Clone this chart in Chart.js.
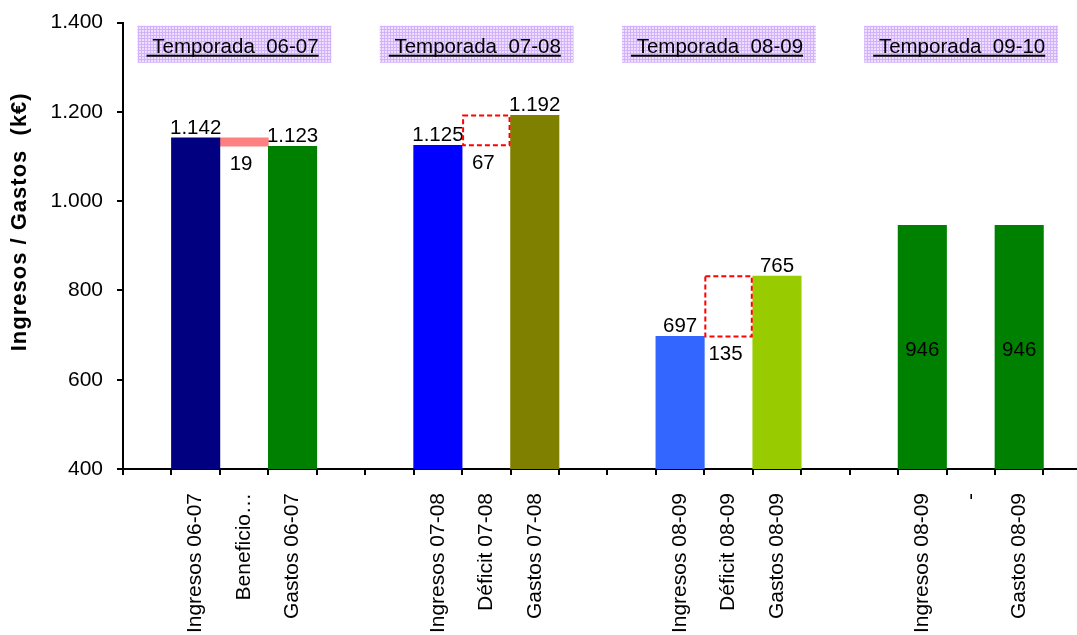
<!DOCTYPE html>
<html>
<head>
<meta charset="utf-8">
<script src="https://cdn.jsdelivr.net/npm/chart.js@4"></script>
<style>
html,body{margin:0;padding:0;overflow:hidden;background:#fff;width:1077px;height:635px}
#wrap{position:absolute;left:0;top:-4px;width:1111px;height:664px}
</style>
</head>
<body>
<div id="wrap"><canvas id="c" width="1111" height="664"></canvas></div>
<script>
// ---- data ----
const categories = ['', 'Ingresos 06-07', 'Beneficio\u2026', 'Gastos 06-07', '', '',
  'Ingresos 07-08', 'Déficit 07-08', 'Gastos 07-08', '', '',
  'Ingresos 08-09', 'Déficit 08-09', 'Gastos 08-09', '', '',
  'Ingresos 08-09', '-', 'Gastos 08-09', ''];
const ingresosGastos = [null, 1142, null, 1123, null, null, 1125, null, 1192, null, null,
  697, null, 832, null, null, 946, null, 946, null];
const diferencias = [null, null, [1123, 1142], null, null, null, null, [1125, 1192], null, null,
  null, null, [697, 832], null, null, null, null, null, null, null];
const valueLabels = [null, 1142, 19, 1123, null, null, 1125, 67, 1192, null, null,
  697, 135, 765, null, null, 946, null, 946, null];
const seasons = ['Temporada  06-07', 'Temporada  07-08', 'Temporada  08-09', 'Temporada  09-10'];
const yTitle = 'Ingresos / Gastos  (k€)';
const yMin = 400, yMax = 1400, yStep = 200;

// ---- styles ----
const mainColors = ['#000000', '#000080', '#000000', '#008000', '#000000', '#000000',
  '#0000FF', '#000000', '#808000', '#000000', '#000000',
  '#3366FF', '#000000', '#99CC00', '#000000', '#000000',
  '#008000', '#000000', '#008000', '#000000'];
const CLEAR = 'rgba(0,0,0,0)';
const diffColors = categories.map((c, i) => (i === 2 ? '#FF8080' : CLEAR));
const FONT = '"Liberation Sans", Arial, sans-serif';
const CANVAS_H = 664, AXIS_Y = 473;

function fmt(v) {
  const s = String(Math.round(v));
  return s.replace(/\B(?=(\d{3})+(?!\d))/g, '.');
}

function makePattern(ctx) {
  const t = document.createElement('canvas');
  t.width = 3; t.height = 3;
  const c = t.getContext('2d');
  c.fillStyle = '#EEDFFF'; c.fillRect(0, 0, 3, 3);
  c.fillStyle = '#D2B2FA'; c.fillRect(0, 0, 3, 1); c.fillRect(0, 0, 1, 3);
  return ctx.createPattern(t, 'repeat');
}

const seasonPlugin = {
  id: 'seasons',
  beforeDatasetsDraw(chart) {
    const ctx = chart.ctx, xs = chart.scales.x, ys = chart.scales.y;
    const catW = xs.width / categories.length;
    ctx.save();
    const pat = makePattern(ctx);
    seasons.forEach((s, k) => {
      const left = xs.left + (k * 5 + 0.3) * catW;
      const w = 4 * catW;
      const top = ys.getPixelForValue(1393);
      const bot = ys.getPixelForValue(1310);
      ctx.fillStyle = pat;
      ctx.fillRect(left, top, w, bot - top);
      ctx.font = '20.5px ' + FONT;
      ctx.fillStyle = '#000';
      ctx.textAlign = 'left';
      ctx.textBaseline = 'alphabetic';
      const txt = ' ' + s;
      const tx = left + 9, ty = top + 27;
      ctx.fillText(txt, tx, ty);
      const tw = ctx.measureText(txt).width;
      ctx.fillRect(tx, ty + 2, tw, 2);
    });
    // y axis title
    const ca = chart.chartArea;
    ctx.translate(20, (ca.top + ca.bottom) / 2 - 24);
    ctx.rotate(-Math.PI / 2);
    ctx.font = 'bold 22px ' + FONT;
    if ('letterSpacing' in ctx) ctx.letterSpacing = '1px';
    ctx.textAlign = 'center';
    ctx.textBaseline = 'middle';
    ctx.fillStyle = '#000';
    ctx.fillText(yTitle, 0, 0);
    ctx.restore();
  }
};

const labelPlugin = {
  id: 'valueLabels',
  afterDatasetsDraw(chart) {
    const ctx = chart.ctx, ys = chart.scales.y;
    ctx.save();
    ctx.font = '20.5px ' + FONT;
    ctx.fillStyle = '#000';
    ctx.textAlign = 'center';
    ctx.textBaseline = 'alphabetic';
    chart.data.datasets.forEach((ds, di) => {
      const meta = chart.getDatasetMeta(di);
      meta.data.forEach((el, i) => {
        const v = valueLabels[i];
        if (v == null || ds.data[i] == null) return;
        const p = el.getProps(['x', 'y', 'base', 'width'], true);
        const base = Math.min(p.base, ys.bottom);
        if (ds.kind === 'diff') {
          if (ds.dashed[i]) {
            ctx.save();
            ctx.strokeStyle = '#FF0000';
            ctx.lineWidth = 2;
            ctx.setLineDash([5, 3]);
            ctx.strokeRect(p.x - p.width / 2 + 1, p.y, p.width - 2, base - p.y);
            ctx.restore();
          }
          ctx.fillText(fmt(v), p.x - 3, base + 24);
        } else if (ds.centerFrom != null && i >= ds.centerFrom) {
          ctx.fillText(fmt(v), p.x, (p.y + base) / 2 + 9);
        } else {
          ctx.fillText(fmt(v), p.x, p.y - 4);
        }
      });
    });
    ctx.restore();
  }
};

new Chart(document.getElementById('c'), {
  type: 'bar',
  data: {
    labels: categories,
    datasets: [
      {
        label: 'Ingresos / Gastos',
        data: ingresosGastos,
        backgroundColor: mainColors,
        barPercentage: 1.0,
        categoryPercentage: 1.0,
        grouped: false,
        centerFrom: 15
      },
      {
        label: 'Diferencia',
        kind: 'diff',
        data: diferencias,
        backgroundColor: diffColors,
        dashed: diferencias.map((d, i) => d != null && diffColors[i] === CLEAR),
        barPercentage: 1.0,
        categoryPercentage: 1.0,
        grouped: false
      }
    ]
  },
  options: {
    responsive: false,
    animation: false,
    layout: { padding: { top: 19, left: 0, right: 6, bottom: 0 } },
    plugins: { legend: { display: false }, tooltip: { enabled: false } },
    scales: {
      x: {
        grid: { drawOnChartArea: false, color: '#000', lineWidth: 2, tickLength: 6, offset: true },
        border: { color: '#000', width: 2 },
        ticks: {
          autoSkip: false, maxRotation: 90, minRotation: 90, padding: 18,
          color: '#000', font: { family: FONT, size: 21 }
        },
        afterFit(scale) { scale.height = CANVAS_H - AXIS_Y; }
      },
      y: {
        min: yMin, max: yMax,
        grid: { drawOnChartArea: false, color: '#000', lineWidth: 2, tickLength: 6 },
        border: { color: '#000', width: 2 },
        ticks: {
          stepSize: yStep, padding: 14, color: '#000',
          font: { family: FONT, size: 21 },
          callback: (v) => fmt(v)
        },
        afterFit(scale) { scale.width = 123; }
      }
    }
  },
  plugins: [seasonPlugin, labelPlugin]
});
</script>
</body>
</html>
